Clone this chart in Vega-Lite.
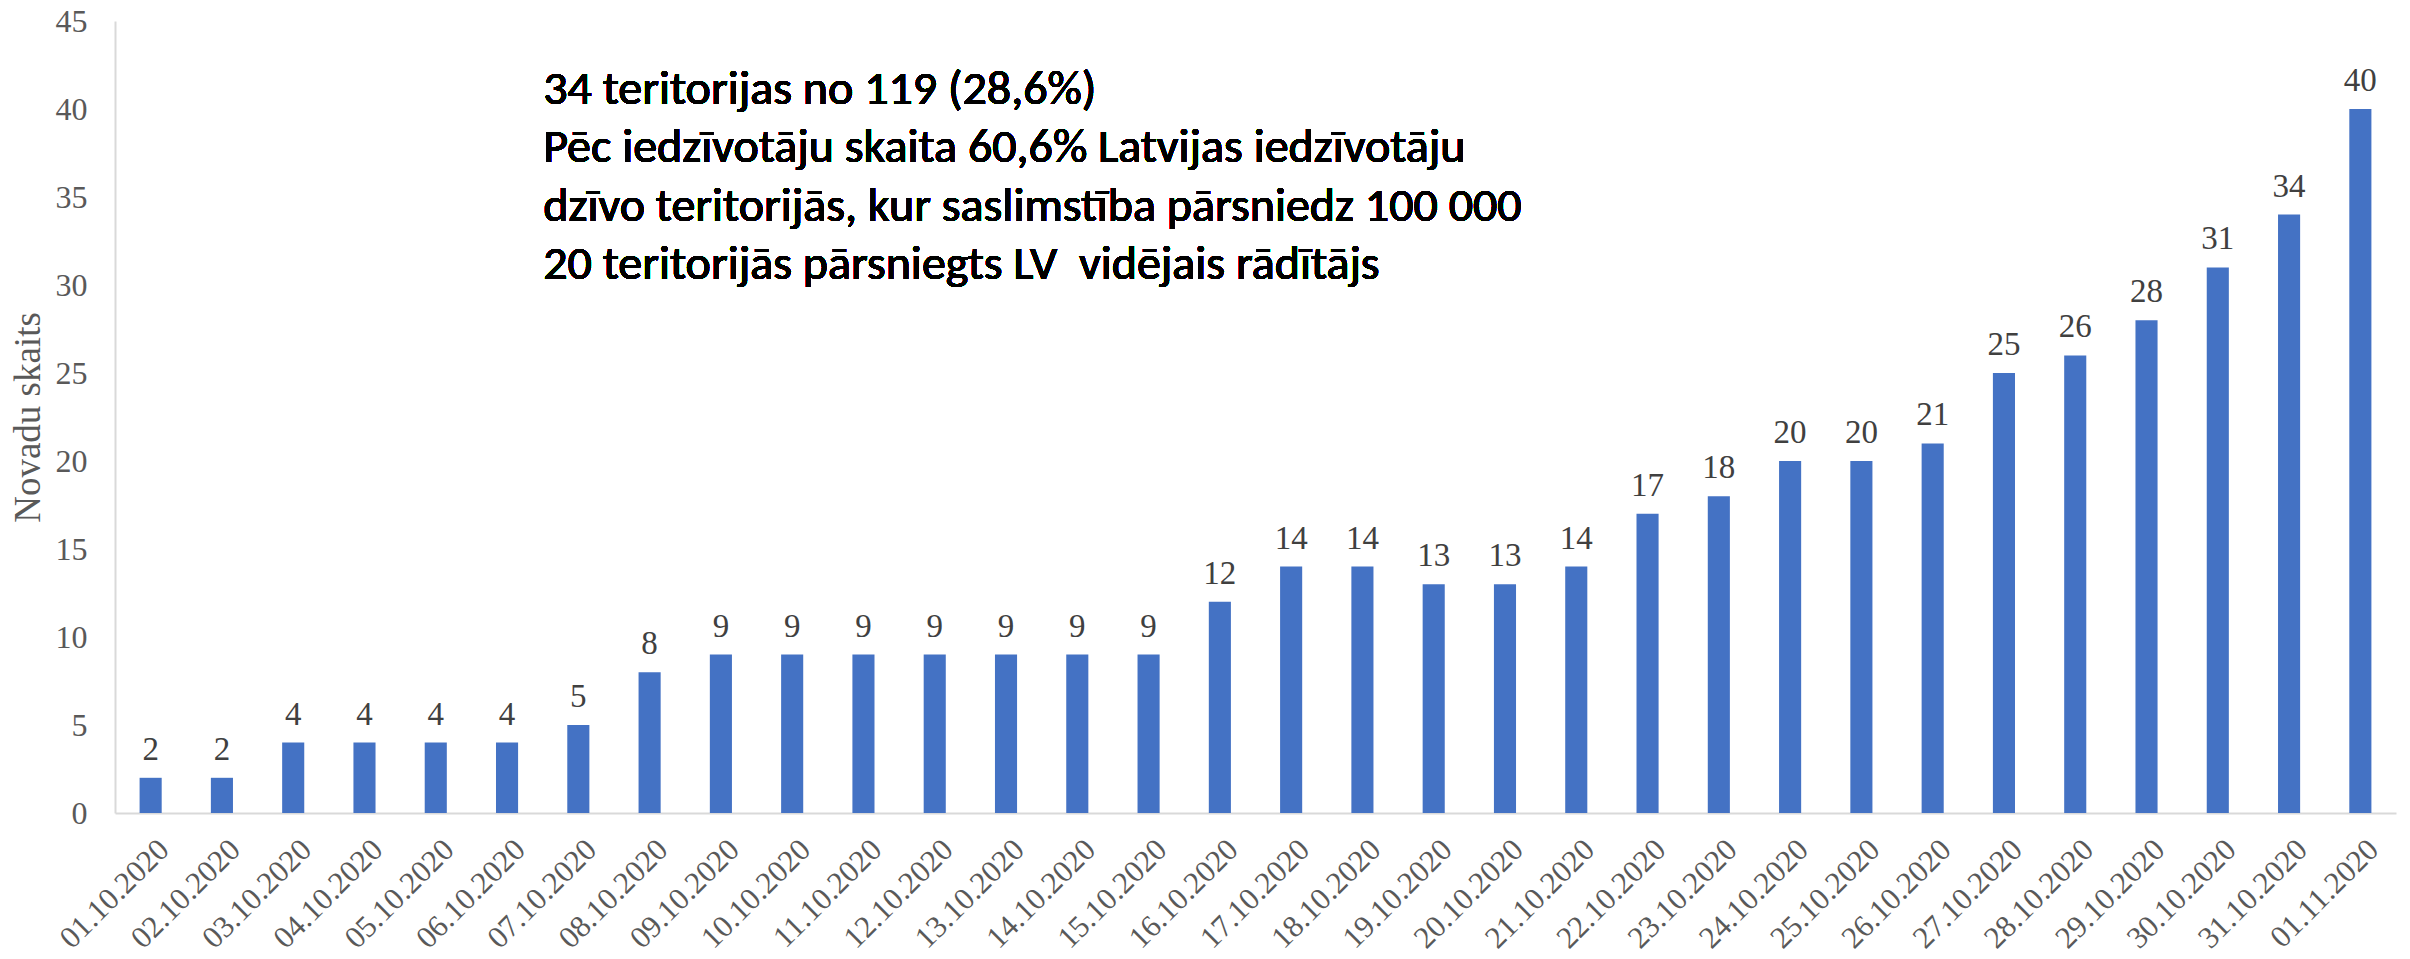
{
  "$schema": "https://vega.github.io/schema/vega-lite/v6.json",
  "autosize": "none",
  "width": 2281,
  "height": 792,
  "padding": {"left": 115, "top": 21, "right": 14, "bottom": 146},
  "background": "white",
  "config": {"view": {"stroke": null}},
  "data": {
    "values": [
      {"date": "01.10.2020", "value": 2},
      {"date": "02.10.2020", "value": 2},
      {"date": "03.10.2020", "value": 4},
      {"date": "04.10.2020", "value": 4},
      {"date": "05.10.2020", "value": 4},
      {"date": "06.10.2020", "value": 4},
      {"date": "07.10.2020", "value": 5},
      {"date": "08.10.2020", "value": 8},
      {"date": "09.10.2020", "value": 9},
      {"date": "10.10.2020", "value": 9},
      {"date": "11.10.2020", "value": 9},
      {"date": "12.10.2020", "value": 9},
      {"date": "13.10.2020", "value": 9},
      {"date": "14.10.2020", "value": 9},
      {"date": "15.10.2020", "value": 9},
      {"date": "16.10.2020", "value": 12},
      {"date": "17.10.2020", "value": 14},
      {"date": "18.10.2020", "value": 14},
      {"date": "19.10.2020", "value": 13},
      {"date": "20.10.2020", "value": 13},
      {"date": "21.10.2020", "value": 14},
      {"date": "22.10.2020", "value": 17},
      {"date": "23.10.2020", "value": 18},
      {"date": "24.10.2020", "value": 20},
      {"date": "25.10.2020", "value": 20},
      {"date": "26.10.2020", "value": 21},
      {"date": "27.10.2020", "value": 25},
      {"date": "28.10.2020", "value": 26},
      {"date": "29.10.2020", "value": 28},
      {"date": "30.10.2020", "value": 31},
      {"date": "31.10.2020", "value": 34},
      {"date": "01.11.2020", "value": 40}
    ]
  },
  "encoding": {
    "x": {
      "field": "date",
      "type": "nominal",
      "sort": null,
      "scale": {"paddingInner": 0.69, "paddingOuter": 0.345},
      "axis": {
        "title": null,
        "labelAngle": -45,
        "labelAlign": "right",
        "labelBaseline": "top",
        "labelPadding": 21,
        "labelOffset": 3,
        "labelFont": "Liberation Serif",
        "labelFontSize": 31,
        "labelColor": "#595959",
        "ticks": false,
        "domainColor": "#d9d9d9",
        "domainWidth": 2,
        "labelOverlap": false
      }
    },
    "y": {
      "field": "value",
      "type": "quantitative",
      "scale": {"domain": [0, 45], "nice": false},
      "axis": {
        "title": "Novadu skaits",
        "titleFont": "Liberation Serif",
        "titleFontSize": 37,
        "titleFontWeight": "normal",
        "titleColor": "#595959",
        "titlePadding": 8,
        "values": [0, 5, 10, 15, 20, 25, 30, 35, 40, 45],
        "labelFont": "Liberation Serif",
        "labelFontSize": 32,
        "labelColor": "#595959",
        "labelPadding": 28,
        "ticks": false,
        "grid": false,
        "domainColor": "#d9d9d9",
        "domainWidth": 2
      }
    }
  },
  "layer": [
    {"mark": {"type": "bar", "color": "#4472C4"}},
    {
      "mark": {
        "type": "text",
        "baseline": "alphabetic",
        "dy": -18,
        "font": "Liberation Serif",
        "fontSize": 33,
        "color": "#404040"
      },
      "encoding": {"text": {"field": "value", "type": "quantitative"}}
    },
    {
      "mark": {
        "type": "text",
        "align": "left",
        "baseline": "alphabetic",
        "dx": -24,
        "font": "Carlito",
        "fontWeight": 400,
        "fontSize": 48,
        "lineHeight": 58.5,
        "color": "#000000",
        "text": [
          "34 teritorijas no 119 (28,6%)",
          "Pēc iedzīvotāju skaita 60,6% Latvijas iedzīvotāju",
          "dzīvo teritorijās, kur saslimstība pārsniedz 100 000",
          "20 teritorijās pārsniegts LV\u00a0 vidējais rādītājs"
        ]
      },
      "encoding": {
        "x": {"datum": "07.10.2020", "type": "nominal", "bandPosition": 0},
        "y": {"datum": 40.3, "type": "quantitative"}
      }
    }
  ]
}
